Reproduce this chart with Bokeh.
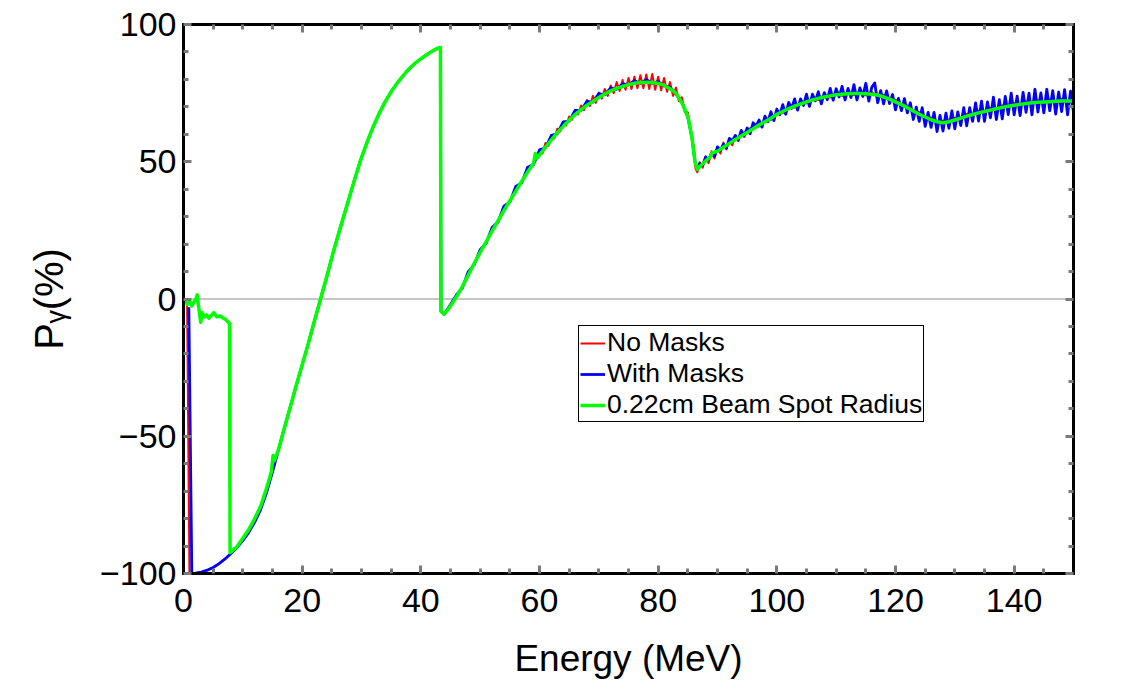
from bokeh.plotting import figure
from bokeh.models import Range1d, FixedTicker, LinearAxis, Span, Legend, LegendItem
from bokeh.embed import file_html
from bokeh.resources import INLINE

# ---------------- data ----------------
x_ticks = [0, 20, 40, 60, 80, 100, 120, 140]
x_minor = [5, 10, 15, 25, 30, 35, 45, 50, 55, 65, 70, 75, 85, 90, 95, 105, 110, 115, 125, 130, 135, 145, 150]
y_ticks = [-100, -50, 0, 50, 100]
y_minor = [-90, -80, -70, -60, -40, -30, -20, -10, 10, 20, 30, 40, 60, 70, 80, 90]
y_tick_labels = {-100: "\u2212100", -50: "\u221250", 0: "0", 50: "50", 100: "100"}

series_names = ["No Masks", "With Masks", "0.22cm Beam Spot Radius"]

# shared rising section (all three runs agree)
common_x = [16, 17, 18, 19, 20, 21, 22, 23.1, 24, 25.3, 26.5, 27.6, 28.7, 29.8, 31, 32, 33, 34, 35,
            36, 37, 38, 39, 40, 41, 42, 42.8, 43.3]
common_y = [-55, -47, -39.3, -31.5, -24, -16.5, -8.5, 0, 7, 17.5, 26.5, 34.5, 42.5, 50.3, 57.5, 62.9,
            67.7, 71.9, 75.5, 78.6, 81.3, 83.8, 85.8, 87.5, 89.0, 90.4, 91.3, 91.6]

# "No Masks" (red)
red_lo_x = [0.6, 1.0, 1.4, 2, 3, 4, 5, 6, 7, 8, 9, 10, 11, 12, 13, 14, 15]
red_lo_y = [-0.5, -100, -100, -99.9, -99.5, -98.8, -97.8, -96.4, -94.7, -92.7, -90.6, -88, -85, -81.3,
            -76.7, -70.5, -63]
red_hi_x = [43.4, 43.9, 44, 45, 46, 47, 48, 49, 50, 51, 52, 53, 54, 55, 56, 57, 58, 59,
            60, 60.5, 61, 61.5, 62, 62.5, 63, 63.5, 64, 64.5, 65, 65.5, 66, 66.5, 67, 67.5, 68, 68.5,
            69, 69.5, 70, 70.5, 71, 71.5, 72, 72.5, 73, 73.5, 74, 74.5, 75, 75.5, 76, 76.5, 77, 77.5,
            78, 78.5, 79, 79.5, 80, 80.5, 81, 81.5, 82, 82.5, 83, 83.5, 84, 84.5, 85, 85.5, 86, 86.3,
            86.6, 87, 87.5, 88, 88.5, 89, 89.5, 90, 90.5, 91, 91.5, 92, 92.5, 93, 93.5, 94, 94.5, 95,
            96, 97, 98, 99, 100, 101, 102, 103, 104, 105, 106, 107, 108, 109, 110, 111, 112, 113, 114,
            115, 116, 117, 118, 119, 120, 121, 122, 123, 124, 125, 126, 127, 128, 129, 130, 131, 132,
            133, 134, 135, 136, 137, 138, 139, 140, 141, 142, 143, 144, 145, 146, 147, 148, 149, 150]
red_hi_y = [-4.5, -5.6, -5.4, -2.5, 0.8, 4.5, 8.8, 13, 17, 20.8, 24.7, 28.5, 32.2, 35.8, 39.3, 42.8, 46.3, 49.5,
            53.5, 53.0, 56.8, 55.8, 59.2, 58.5, 62.0, 61.0, 64.5, 63.2, 66.5, 65.3, 68.8, 67.2, 70.5, 68.8,
            72.5, 70.3, 74.0, 71.5, 75.2, 73.0, 76.5, 74.0, 77.8, 75.0, 79.0, 75.8, 79.8, 76.2, 80.5, 76.5,
            81.0, 76.8, 81.5, 76.8, 81.8, 76.5, 82.0, 76.2, 81.0, 76.0, 80.5, 75.5, 79.0, 74.0, 77.0, 72.0,
            73.5, 68.0, 68.0, 60.5, 55.5, 47.5, 46.2, 49.8, 47.8, 52.0, 49.5, 53.8, 51.2, 55.5, 53.0, 57.0,
            54.5, 58.3, 56.0, 59.5, 57.5, 60.5, 59.0, 61.5,
            62.8, 62.8, 65.4, 65.2, 68.0, 67.7, 70.2, 69.7, 71.9, 71.2, 73.3, 72.5, 74.4, 73.4, 75.2, 74.0,
            75.6, 74.3, 75.7, 74.2, 75.4, 73.7, 74.4, 72.2, 72.6, 70.2, 70.5, 67.9, 68.1, 65.7, 66.1, 64.0,
            65.0, 64.0, 66.0, 65.3, 67.4, 66.6, 68.6, 67.7, 69.6, 68.7, 70.6, 69.6, 71.4, 70.3, 72.0, 70.9,
            72.5, 71.2, 72.7, 71.4, 72.9, 71.5, 72.9]

# "With Masks" (blue)
blue_lo_x = [0.9, 1.4, 2, 3, 4, 5, 6, 7, 8, 9, 10, 11, 12, 13, 14, 15]
blue_lo_y = [-3, -100, -99.9, -99.5, -98.8, -97.8, -96.4, -94.7, -92.7, -90.6, -88, -85, -81.3, -76.7,
             -70.5, -63]
blue_hi_x = [43.4, 43.9, 44, 45, 46, 47, 48, 49, 50, 51, 52, 53, 54, 55, 56, 57, 58, 59, 60, 61, 62, 63,
             64, 65, 66, 67, 68, 69, 70, 71, 72, 73, 74, 75, 76, 77, 78, 79, 80, 81, 82, 83, 84, 85, 85.7,
             86.2, 86.6,
             87, 87.5, 88, 88.5, 89, 89.5, 90, 90.5, 91, 91.5, 92, 92.5, 93, 93.5, 94, 94.5, 95, 95.5, 96,
             96.5, 97, 97.5, 98, 98.5, 99, 99.5, 100, 100.5, 101, 101.5, 102, 102.5, 103, 103.5, 104,
             104.5, 105, 105.5, 106, 106.5, 107, 107.5, 108, 108.5, 109, 109.5, 110, 110.5, 111, 111.5,
             112, 112.5, 113, 113.5, 114, 114.5, 115, 115.5, 116, 116.5, 117, 117.5, 118, 118.5, 119,
             119.5, 120, 120.5, 121, 121.5, 122, 122.5, 123, 123.5, 124, 124.5, 125, 125.5, 126, 126.5,
             127, 127.5, 128, 128.5, 129, 129.5, 130, 130.5, 131, 131.5, 132, 132.5, 133, 133.5, 134,
             134.5, 135, 135.5, 136, 136.5, 137, 137.5, 138, 138.5, 139, 139.5, 140, 140.5, 141, 141.5,
             142, 142.5, 143, 143.5, 144, 144.5, 145, 145.5, 146, 146.5, 147, 147.5, 148, 148.5, 149,
             149.5, 150]
blue_hi_y = [-4.5, -5.6, -5.4, -2.0, 1.5, 4.0, 10.0, 12.5, 18.0, 20.3, 26.0, 28.0, 33.8, 35.3, 41.0, 42.3,
             48.0, 49.0, 54.3, 55.0, 59.6, 60.2, 64.5, 64.8, 68.7, 68.7, 72.0, 71.7, 74.8, 74.4, 76.9, 76.4,
             78.4, 78.0, 79.5, 78.6, 79.9, 78.6, 79.2, 77.6, 77.2, 74.6, 71.8, 66.2, 58.8, 50.0, 47.2,
             49.3, 48.7, 51.7, 50.8, 53.2, 52.0, 55.4, 54.1, 56.4, 55.0, 58.5, 57.6, 59.6, 58.0, 61.4, 59.6,
             62.3, 60.2, 64.2, 63.0, 65.2, 62.6, 66.6, 64.6, 68.2, 65.0, 69.2, 67.1, 70.8, 67.3, 71.6, 69.5,
             72.9, 68.8, 72.9, 70.5, 74.6, 70.2, 74.6, 72.2, 75.5, 71.1, 75.2, 72.6, 76.7, 72.4, 76.6, 73.6,
             77.5, 72.5, 76.7, 73.4, 78.1, 72.5, 76.9, 73.8, 78.6, 72.1, 77.1, 78.7, 71.5, 75.9, 71.1, 75.8,
             71.2, 74.5, 68.9, 73.1, 68.6, 73.0, 67.8, 71.5, 65.4, 69.9, 64.7, 69.7, 62.9, 68.0, 62.5, 68.0,
             61.0, 66.9, 61.2, 67.7, 62.2, 68.5, 62.0, 68.2, 63.2, 69.7, 63.1, 69.7, 64.7, 71.4, 64.8, 72.1,
             64.7, 71.8, 66.0, 73.5, 65.4, 72.6, 65.6, 73.8, 67.2, 75.0, 67.1, 73.9, 66.8, 75.3, 68.0, 75.0,
             67.1, 76.4, 68.1, 75.1, 67.8, 76.4, 68.6, 75.9, 67.4, 75.4, 68.3, 76.3, 67.1, 75.7, 67.9]

# "0.22cm Beam Spot Radius" (green)
green_lo_x = [0.3, 0.6, 1.0, 1.4, 1.8, 2.1, 2.3, 2.5, 2.9, 3.15, 3.5, 3.9, 4.3, 4.7, 5.1, 5.6, 6.2, 6.7,
              7.1, 7.6, 7.75, 7.85, 9, 10, 11, 12, 13, 14, 14.8, 15.1, 15.3]
green_lo_y = [0, -2, -1, -2.5, -1, 0, 1.5, -2, -8.5, -5, -6.5, -5.8, -7, -6, -5, -6.5, -6.2, -7, -7.4,
              -8.6, -9, -92.4, -90.3, -87.2, -84, -80, -75.5, -69, -63, -57, -59]
green_hi_x = [43.4, 43.9, 44.5, 45, 46, 47, 48, 49, 50, 51, 52, 53, 54, 55, 56, 57, 58, 59, 59.3, 59.6,
              60, 61, 62, 63, 64, 65, 66, 67, 68, 69, 70, 71, 72, 73, 74, 75, 76, 77, 78, 79, 80, 81,
              82, 83, 84, 85, 85.7, 86.2, 86.6, 87, 88, 88.8, 89.1, 90, 91, 92, 93, 94, 95, 96, 97, 98,
              99, 100, 101, 102, 103, 104, 105, 106, 107, 108, 109, 110, 111, 112, 113, 114, 115, 116,
              117, 118, 119, 120, 121, 122, 123, 124, 125, 126, 127, 128, 129, 130, 131, 132, 133, 134,
              135, 136, 137, 138, 139, 140, 141, 142, 143, 144, 145, 146, 147, 148, 149, 150]
green_hi_y = [-4.5, -5.6, -4.0, -2.5, 0.8, 4.5, 8.8, 13, 17, 20.8, 24.7, 28.5, 32.2, 35.8, 39.3, 42.8, 46.3,
              49.5, 53.0, 51.3, 52.5, 55.3, 58.0, 60.6, 62.9, 65.1, 67.2, 69.0, 70.6, 72.0, 73.4, 74.7,
              75.8, 76.7, 77.4, 78.1, 78.6, 78.9, 79.0, 78.9, 78.5, 77.9, 76.6, 75.0, 71.5, 66.5, 58.8,
              50.0, 47.2, 48.3, 50.3, 51.8, 53.3, 53.8, 55.3, 56.7, 58.1, 59.4, 60.7, 62.0, 63.4, 64.6,
              65.8, 67.3, 68.3, 69.4, 70.3, 71.1, 71.8, 72.5, 73.1, 73.6, 74.0, 74.4, 74.6, 74.8, 74.9,
              74.9, 74.8, 74.6, 74.3, 73.6, 72.8, 71.8, 70.8, 69.7, 68.5, 67.3, 66.3, 65.3, 64.6, 64.2,
              64.6, 65.2, 65.9, 66.6, 67.2, 67.8, 68.3, 68.8, 69.3, 69.8, 70.2, 70.6, 70.9, 71.2, 71.5,
              71.7, 71.8, 71.9, 72.0, 72.1, 72.1, 72.1]

red_x = red_lo_x + common_x + red_hi_x
red_y = red_lo_y + common_y + red_hi_y
blue_x = blue_lo_x + common_x + blue_hi_x
blue_y = blue_lo_y + common_y + blue_hi_y
green_x = green_lo_x + common_x + green_hi_x
green_y = green_lo_y + common_y + green_hi_y

# ---------------- figure ----------------
FONT = "Liberation Sans"
TICK_COLOR = "#7a7a7a"

p = figure(width=1134, height=692, output_backend="svg", toolbar_location=None,
           x_range=Range1d(0, 150), y_range=Range1d(-100, 100),
           min_border_left=183, min_border_right=61, min_border_top=24, min_border_bottom=119)
p.xgrid.visible = False
p.ygrid.visible = False
p.outline_line_color = None
p.background_fill_color = "white"
p.border_fill_color = "white"


def style_axis(ax, major, minor, show_labels):
    ax.ticker = FixedTicker(ticks=major, minor_ticks=minor)
    ax.axis_line_color = "black"
    ax.axis_line_width = 3
    ax.axis_line_cap = "square"
    ax.major_tick_in = 8
    ax.major_tick_out = 0
    ax.minor_tick_in = 5
    ax.minor_tick_out = 0
    ax.major_tick_line_color = TICK_COLOR
    ax.major_tick_line_width = 3
    ax.minor_tick_line_color = TICK_COLOR
    ax.minor_tick_line_width = 3
    ax.major_label_text_font = FONT
    ax.major_label_text_color = "black"
    if show_labels:
        ax.major_label_text_font_size = "34px"
    else:
        ax.major_label_overrides = {t: "" for t in major}
        ax.major_label_text_font_size = "1px"
        ax.major_label_standoff = 0


xa = p.xaxis[0]
style_axis(xa, x_ticks, x_minor, True)
xa.major_label_standoff = 15
xa.axis_label = "Energy (MeV)"
xa.axis_label_text_font = FONT
xa.axis_label_text_font_size = "37px"
xa.axis_label_text_font_style = "normal"
xa.axis_label_text_color = "black"
xa.axis_label_standoff = 23

ya = p.yaxis[0]
style_axis(ya, y_ticks, y_minor, True)
ya.major_label_standoff = 7
ya.major_label_overrides = y_tick_labels
ya.axis_label = "P\u1d67(%)"
ya.axis_label_text_font = FONT
ya.axis_label_text_font_size = "40px"
ya.axis_label_text_font_style = "normal"
ya.axis_label_text_color = "black"
ya.axis_label_standoff = 26

top = LinearAxis()
style_axis(top, x_ticks, x_minor, False)
p.add_layout(top, "above")
right = LinearAxis()
style_axis(right, y_ticks, y_minor, False)
p.add_layout(right, "right")

# zero line
p.add_layout(Span(location=0, dimension="width", line_color="#8c8c8c", line_width=1, level="underlay"))

r_red = p.line(red_x, red_y, line_color="#ff0000", line_width=2, line_join="round")
r_blue = p.line(blue_x, blue_y, line_color="#0000ff", line_width=2.8, line_join="round")
r_green = p.line(green_x, green_y, line_color="#00ff00", line_width=3.5, line_join="round")

legend = Legend(items=[LegendItem(label=series_names[0], renderers=[r_red]),
                       LegendItem(label=series_names[1], renderers=[r_blue]),
                       LegendItem(label=series_names[2], renderers=[r_green])],
                location=(395, 151))
legend.border_line_color = "black"
legend.border_line_width = 1
legend.border_line_alpha = 1
legend.background_fill_color = "white"
legend.background_fill_alpha = 1
legend.padding = 1
legend.spacing = 0
legend.margin = 0
legend.label_standoff = 2
legend.glyph_width = 25
legend.glyph_height = 20
legend.label_height = 20
legend.label_text_font = FONT
legend.label_text_font_size = "26.5px"
legend.label_text_color = "black"
p.add_layout(legend)

open("out.html", "w").write(file_html(p, INLINE))
